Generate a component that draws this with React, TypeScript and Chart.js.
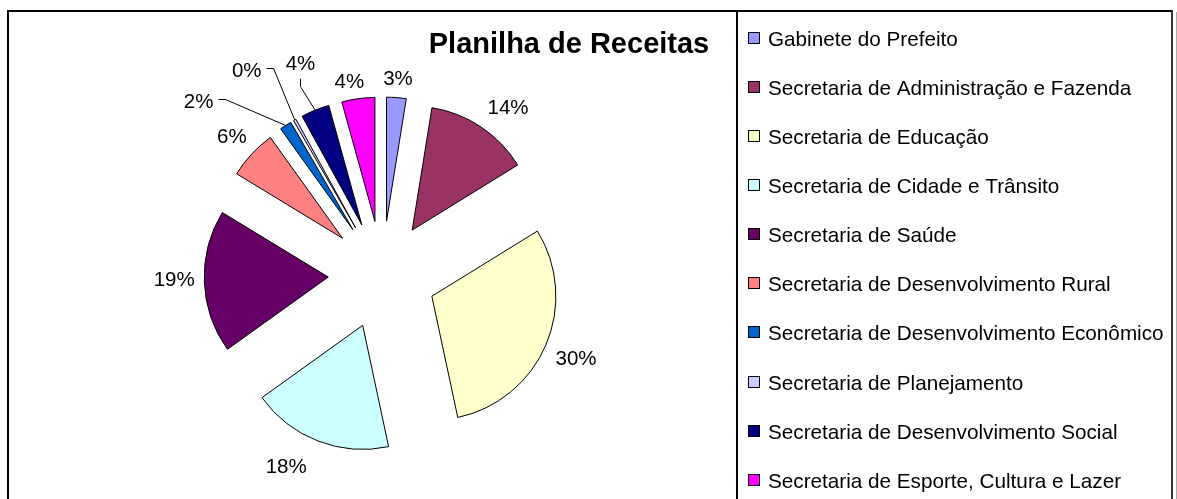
import React, { useEffect, useRef } from "react";
import { Chart, registerables } from "chart.js";

Chart.register(...registerables);

// ---- Data ----
const chartTitle = "Planilha de Receitas";
const categories = [
  "Gabinete do Prefeito",
  "Secretaria de Administração e Fazenda",
  "Secretaria de Educação",
  "Secretaria de Cidade e Trânsito",
  "Secretaria de Saúde",
  "Secretaria de Desenvolvimento Rural",
  "Secretaria de Desenvolvimento Econômico",
  "Secretaria de Planejamento",
  "Secretaria de Desenvolvimento Social",
  "Secretaria de Esporte, Cultura e Lazer",
];
// share of revenue (%)
const values = [2.55, 13.65, 30.45, 18.45, 18.6, 6.4, 1.55, 0.35, 3.7, 4.3];
const colors = [
  "#9999FF",
  "#993366",
  "#FFFFCC",
  "#CCFFFF",
  "#660066",
  "#FF8080",
  "#0066CC",
  "#CCCCFF",
  "#000080",
  "#FF00FF",
];

// ---- Layout / style ----
const FONT = '"Liberation Sans", Arial, Helvetica, sans-serif';
const EXPLODE = 54;
const RADIUS = 124;
const LABEL_GAP = 11;
// label placement (Excel "best fit" result): polar angle (deg clockwise from 12 o'clock) and distance from pie centre
type Hint = { angle: number; dist: number; leader?: boolean } | null;
const labelHints: Hint[] = [
  null,
  { angle: 36.8, dist: 210 },
  null,
  { angle: 206.8, dist: 213 },
  { angle: 269, dist: 208 },
  null,
  { angle: 313.5, dist: 253, leader: true },
  { angle: 326.6, dist: 246, leader: true },
  { angle: 339, dist: 228, leader: true },
  { angle: 350.4, dist: 197 },
];

const explodePlugin = {
  id: "explodeSlices",
  afterDatasetsUpdate(chart: any) {
    const meta = chart.getDatasetMeta(0);
    meta.data.forEach((arc: any) => {
      const mid = (arc.startAngle + arc.endAngle) / 2;
      arc.x += Math.cos(mid) * EXPLODE;
      arc.y += Math.sin(mid) * EXPLODE;
    });
  },
};

const labelPlugin = {
  id: "pieLabels",
  afterDatasetsDraw(chart: any) {
    const ctx = chart.ctx as CanvasRenderingContext2D;
    const meta = chart.getDatasetMeta(0);
    const data = chart.data.datasets[0].data as number[];
    const total = data.reduce((a, b) => a + b, 0);
    ctx.save();
    ctx.font = `20.5px ${FONT}`;
    ctx.fillStyle = "#000";
    ctx.strokeStyle = "#000";
    ctx.lineWidth = 1;
    meta.data.forEach((arc: any, i: number) => {
      const mid = (arc.startAngle + arc.endAngle) / 2;
      const dx = Math.cos(mid);
      const dy = Math.sin(mid);
      const cx = arc.x - dx * EXPLODE;
      const cy = arc.y - dy * EXPLODE;
      const text = Math.round((data[i] / total) * 100) + "%";
      const w = ctx.measureText(text).width;
      const h = 15;
      const hint = labelHints[i];
      let lx: number, ly: number;
      if (hint) {
        const a = ((hint.angle - 90) * Math.PI) / 180;
        lx = cx + Math.cos(a) * hint.dist;
        ly = cy + Math.sin(a) * hint.dist;
      } else {
        const dist = arc.outerRadius + EXPLODE + LABEL_GAP + (Math.abs(dx) * w) / 2 + (Math.abs(dy) * h) / 2;
        lx = cx + dx * dist;
        ly = cy + dy * dist;
      }
      ctx.textAlign = "center";
      ctx.textBaseline = "alphabetic";
      ctx.fillText(text, lx, ly + 7.5);
      if (hint && hint.leader) {
        const px = arc.x + dx * arc.outerRadius;
        const py = arc.y + dy * arc.outerRadius;
        ctx.beginPath();
        if (Math.abs(px - lx) > 0.5 * Math.abs(py - ly)) {
          const sx = lx + w / 2 + 5;
          const sy = Math.round(ly - 1.5) + 0.5;
          ctx.moveTo(sx, sy);
          ctx.lineTo(sx + 7, sy);
          ctx.lineTo(px, py);
        } else {
          const sx = Math.round(lx) + 0.5;
          const sy = ly + 16.5;
          ctx.moveTo(sx, sy);
          ctx.lineTo(sx, sy + 8);
          ctx.lineTo(px, py);
        }
        ctx.stroke();
      }
    });
    ctx.restore();
  },
};

const LEGEND_BOX_X = 748;
const LEGEND_TEXT_X = 768;
const LEGEND_TOP = 38.3;
const LEGEND_STEP = 49.1;

const framePlugin = {
  id: "frameLegendTitle",
  afterDraw(chart: any) {
    const ctx = chart.ctx as CanvasRenderingContext2D;
    const ds = chart.data.datasets[0];
    const labels = chart.data.labels as string[];
    ctx.save();
    // title
    ctx.font = `bold 29px ${FONT}`;
    ctx.fillStyle = "#000";
    ctx.textAlign = "center";
    ctx.textBaseline = "alphabetic";
    ctx.fillText(chartTitle, 569, 53);
    // legend
    ctx.font = `20.7px ${FONT}`;
    ctx.textAlign = "left";
    labels.forEach((lab, i) => {
      const y = LEGEND_TOP + i * LEGEND_STEP;
      const top = Math.round(y - 6.5);
      ctx.fillStyle = ds.backgroundColor[i];
      ctx.fillRect(LEGEND_BOX_X, top, 12, 12);
      ctx.strokeStyle = "#000";
      ctx.lineWidth = 1;
      ctx.strokeRect(LEGEND_BOX_X + 0.5, top + 0.5, 11, 11);
      ctx.fillStyle = "#000";
      ctx.fillText(lab, LEGEND_TEXT_X, y + 7.5);
    });
    // frame
    ctx.fillStyle = "#000";
    ctx.fillRect(7, 10, 1166, 2);
    ctx.fillRect(7, 10, 2, 489);
    ctx.fillRect(736, 10, 2, 489);
    ctx.fillStyle = "#333";
    ctx.fillRect(1171, 10, 2, 489);
    ctx.fillStyle = "#aaa";
    ctx.fillRect(1176, 12, 1, 487);
    ctx.restore();
  },
};

export default function App() {
  const ref = useRef<HTMLCanvasElement>(null);
  useEffect(() => {
    if (!ref.current) return;
    const chart = new Chart(ref.current, {
      type: "pie",
      data: {
        labels: categories,
        datasets: [
          {
            data: values,
            backgroundColor: colors,
            borderColor: "#000",
            borderWidth: 1,
            clip: false,
          } as any,
        ],
      },
      options: {
        animation: false,
        responsive: false,
        devicePixelRatio: 1,
        events: [],
        radius: RADIUS,
        layout: { padding: { left: 200, right: 612.6, top: 175, bottom: 124 } },
        plugins: {
          legend: { display: false },
          title: { display: false },
          tooltip: { enabled: false },
        },
      } as any,
      plugins: [explodePlugin, labelPlugin, framePlugin],
    });
    return () => chart.destroy();
  }, []);
  return (
    <div style={{ position: "absolute", left: 0, top: 0, width: 1177, height: 499, background: "#fff" }}>
      <canvas ref={ref} width={1177} height={499} style={{ display: "block" }} />
    </div>
  );
}
